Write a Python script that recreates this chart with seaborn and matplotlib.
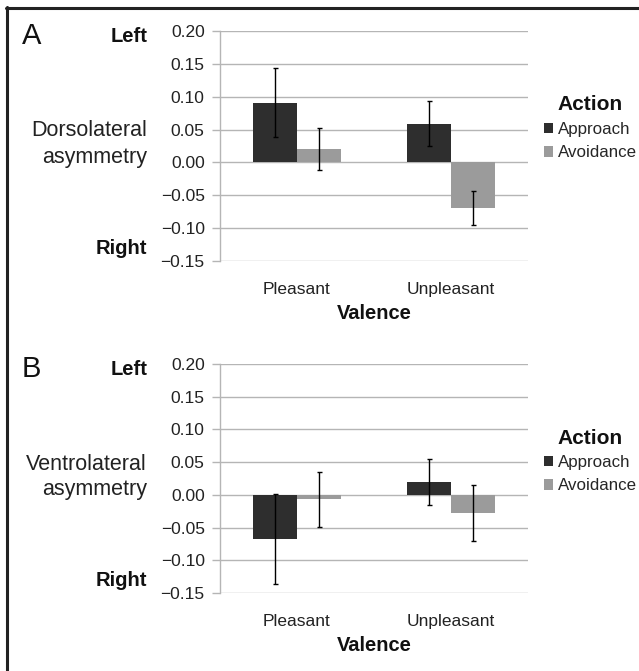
import matplotlib
matplotlib.use("Agg")
import matplotlib.pyplot as plt
from matplotlib.lines import Line2D
from matplotlib.patches import Patch
import pandas as pd
import seaborn as sns

# values (asymmetry scores with error bars)
valence = ["Pleasant", "Unpleasant"]
actions = ["Approach", "Avoidance"]

dorso_approach = [0.091, 0.059]
dorso_avoidance = [0.020, -0.069]
dorso_approach_err = [0.052, 0.034]
dorso_avoidance_err = [0.032, 0.026]

ventro_approach = [-0.067, 0.020]
ventro_avoidance = [-0.007, -0.028]
ventro_approach_err = [0.069, 0.035]
ventro_avoidance_err = [0.042, 0.043]

colors = {"Approach": "#2e2e2e", "Avoidance": "#9b9b9b"}

W, H = 639, 671
sns.set_theme(style="white")
plt.rcParams["font.family"] = ["Liberation Sans", "DejaVu Sans"]


def fx(px):
    return px / W


def fy(py):
    return 1 - py / H


def make_df(app, avo):
    return pd.DataFrame({
        "Valence": valence * 2,
        "Action": [actions[0]] * 2 + [actions[1]] * 2,
        "value": list(app) + list(avo),
    })


def draw_panel(ax, app, avo, app_err, avo_err):
    df = make_df(app, avo)
    sns.barplot(data=df, x="Valence", y="value", hue="Action", order=valence,
                hue_order=actions, palette=colors, errorbar=None, width=0.57,
                saturation=1, linewidth=0, legend=False, ax=ax)
    for cont, vals, errs in zip(ax.containers, [app, avo], [app_err, avo_err]):
        xs = [p.get_x() + p.get_width() / 2 for p in cont.patches]
        ax.errorbar(xs, vals, yerr=errs, fmt="none", ecolor="black",
                    elinewidth=1.0, capsize=1.8, capthick=1.0, zorder=5)
    ax.set_xlim(-0.5, 1.5)
    ax.set_ylim(-0.15, 0.20)
    ax.set_yticks([0.20, 0.15, 0.10, 0.05, 0.00, -0.05, -0.10, -0.15])
    ax.yaxis.set_major_formatter(plt.FuncFormatter(lambda v, _: f"{v:.2f}".replace("-", "\u2212")))
    ax.grid(axis="y", color="#b5b5b5", linewidth=1.0)
    ax.set_axisbelow(True)
    for s in ["top", "right", "bottom"]:
        ax.spines[s].set_visible(False)
    ax.spines["left"].set_color("#b5b5b5")
    ax.spines["left"].set_linewidth(1.0)
    ax.tick_params(axis="y", length=6, width=1, color="#b5b5b5", left=True,
                   labelsize=12.5, pad=5, labelcolor="#222222")
    ax.tick_params(axis="x", length=0, labelsize=12.5, pad=15, labelcolor="#222222")
    ax.set_ylabel("")
    ax.set_xlabel("Valence", fontsize=14.5, fontweight="bold", labelpad=5, color="#111111")


fig = plt.figure(figsize=(W / 100, H / 100), dpi=100)
axA = fig.add_axes([fx(220), fy(261), fx(308), 230 / H])
axB = fig.add_axes([fx(220), fy(593), fx(308), 229 / H])

draw_panel(axA, dorso_approach, dorso_avoidance, dorso_approach_err, dorso_avoidance_err)
draw_panel(axB, ventro_approach, ventro_avoidance, ventro_approach_err, ventro_avoidance_err)

handles = [Patch(facecolor=colors[a], edgecolor="none") for a in actions]

for off, letter, name in [(0, "A", "Dorsolateral"), (333, "B", "Ventrolateral")]:
    fig.text(fx(22), fy(36 + off), letter, fontsize=21, va="center", ha="left", color="#111111")
    fig.text(fx(147), fy(37 + off), "Left", fontsize=14.5, fontweight="bold",
             ha="right", va="center", color="#111111")
    fig.text(fx(147), fy(248 + off), "Right", fontsize=14.5, fontweight="bold",
             ha="right", va="center", color="#111111")
    fig.text(fx(147), fy(131 + off), name, fontsize=15.5, ha="right", va="center", color="#222222")
    fig.text(fx(147), fy(157 + off), "asymmetry", fontsize=15.5, ha="right", va="center", color="#222222")
    fig.text(fx(557), fy(105 + off), "Action", fontsize=15, fontweight="bold",
             ha="left", va="center", color="#111111")
    fig.legend(handles, actions, loc="upper left",
               bbox_to_anchor=(fx(544), fy(122 + off)), frameon=False,
               fontsize=12.2, handlelength=0.55, handleheight=0.6,
               handletextpad=0.3, labelspacing=0.5, borderpad=0, borderaxespad=0)

# frame lines (top and left)
fig.add_artist(Line2D([fx(6), 1], [fy(7.5), fy(7.5)], color="#222222", linewidth=2.2))
fig.add_artist(Line2D([fx(7), fx(7)], [fy(6.5), 0], color="#222222", linewidth=2.2))

fig.savefig("out.png", dpi=100, facecolor="white")
